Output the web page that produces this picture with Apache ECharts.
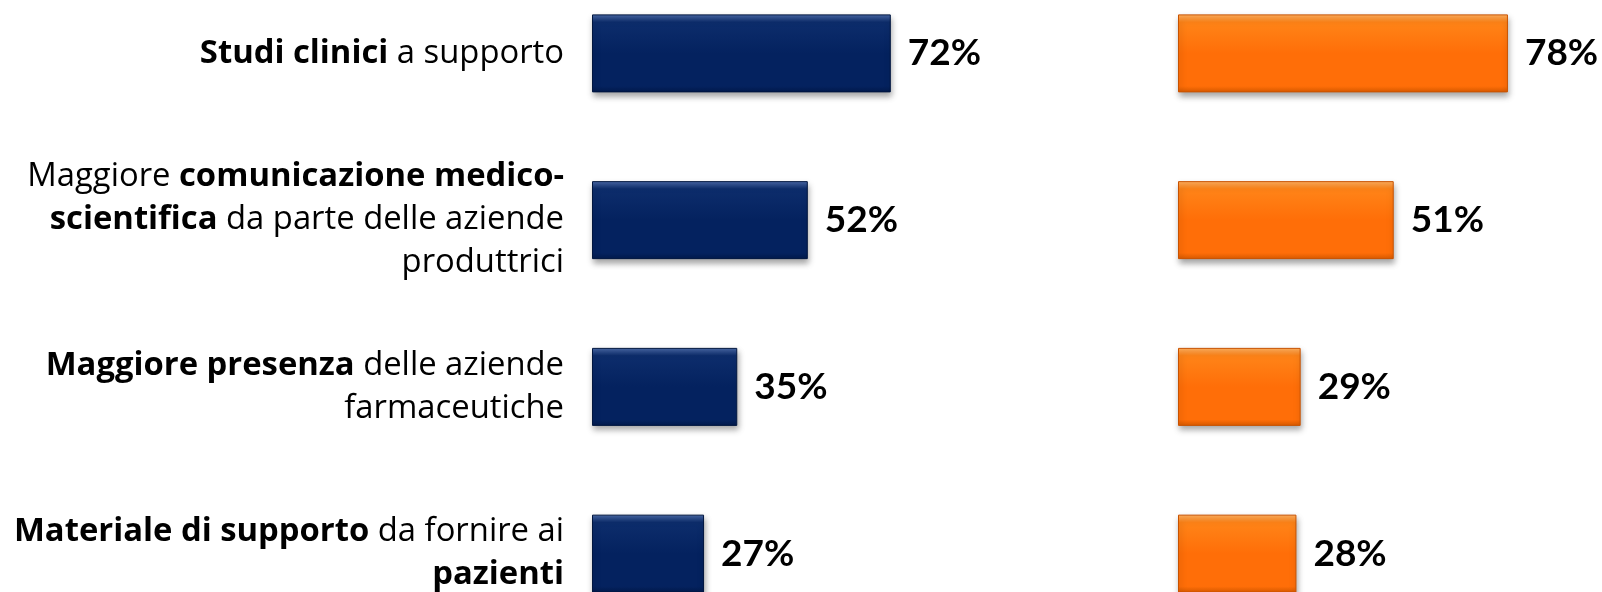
<!DOCTYPE html>
<html>
<head>
<meta charset="utf-8">
<script src="https://cdn.jsdelivr.net/npm/echarts@6/dist/echarts.min.js"></script>
<style>
  html, body { margin: 0; padding: 0; background: #fff; }
  #main { width: 1602px; height: 592px; }
</style>
</head>
<body>
<div id="main"></div>
<script>
// categorie (testo in grassetto marcato con {b|...})
var categories = [
    '{b|Studi clinici} a supporto',
    'Maggiore {b|comunicazione medico-}\n{b|scientifica} da parte delle aziende\nproduttrici',
    '{b|Maggiore presenza} delle aziende\nfarmaceutiche',
    '{b|Materiale di supporto} da fornire ai\n{b|pazienti}'
];
var leftValues = [72, 52, 35, 27];
var rightValues = [78, 51, 29, 28];

var labelFont = '"Open Sans", Lato, sans-serif';
var valueFont = 'Lato, "Open Sans", sans-serif';

function barStyle(c0, c1, c2, c3, edge) {
    return {
        color: new echarts.graphic.LinearGradient(0, 0, 0, 1, [
            { offset: 0, color: c0 },
            { offset: 0.1, color: c1 },
            { offset: 0.5, color: c2 },
            { offset: 0.92, color: c2 },
            { offset: 1, color: c3 }
        ]),
        borderColor: edge,
        borderWidth: 1,
        shadowColor: 'rgba(0,0,0,0.35)',
        shadowBlur: 6,
        shadowOffsetY: 4,
        shadowOffsetX: 1
    };
}

var valueLabel = {
    show: true,
    position: 'right',
    distance: 17,
    formatter: '{c}%',
    color: '#000',
    fontFamily: valueFont,
    fontWeight: 'bold',
    fontSize: 37
};

var myChart = echarts.init(document.getElementById('main'));
myChart.setOption({
    backgroundColor: '#fff',
    animation: false,
    grid: [
        { left: 592, width: 415, top: -30, height: 667, outerBoundsMode: 'none' },
        { left: 1178, width: 423, top: -30, height: 667, outerBoundsMode: 'none' }
    ],
    xAxis: [
        { gridIndex: 0, type: 'value', min: 0, max: 100, show: false },
        { gridIndex: 1, type: 'value', min: 0, max: 100, show: false }
    ],
    yAxis: [
        {
            gridIndex: 0,
            type: 'category',
            inverse: true,
            data: categories,
            axisLine: { show: false },
            axisTick: { show: false },
            axisLabel: {
                margin: 28,
                align: 'right',
                color: '#000',
                fontFamily: labelFont,
                fontSize: 32.8,
                lineHeight: 43,
                rich: {
                    b: { fontFamily: labelFont, fontWeight: 'bold', fontSize: 32.8, lineHeight: 43, color: '#000' }
                }
            }
        },
        {
            gridIndex: 1,
            type: 'category',
            inverse: true,
            data: categories,
            show: false
        }
    ],
    series: [
        {
            type: 'bar',
            xAxisIndex: 0,
            yAxisIndex: 0,
            data: leftValues,
            barWidth: 78,
            itemStyle: barStyle('#4a6aa8', '#0d2d6c', '#04225f', '#021a4c', '#01163f'),
            label: valueLabel
        },
        {
            type: 'bar',
            xAxisIndex: 1,
            yAxisIndex: 1,
            data: rightValues,
            barWidth: 78,
            itemStyle: barStyle('#ffb060', '#ff8418', '#ff6e08', '#d85a00', '#c85200'),
            label: valueLabel
        }
    ]
});
</script>
</body>
</html>
